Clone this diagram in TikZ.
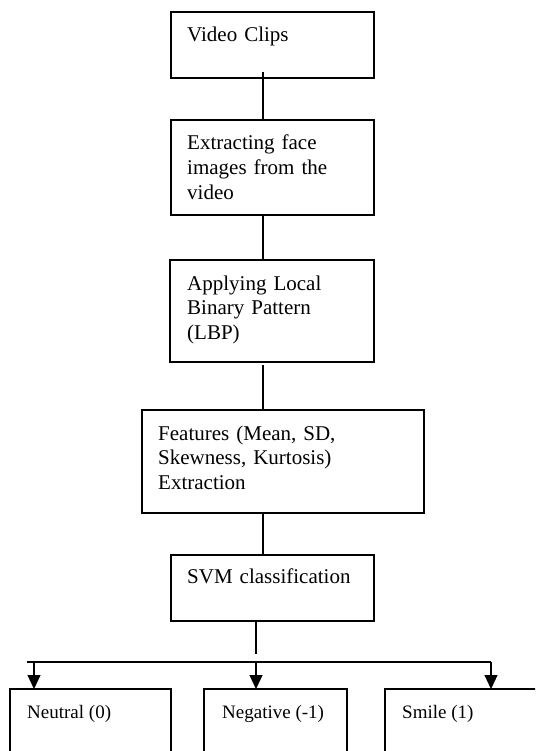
\documentclass[tikz,border=0pt]{standalone}
\usepackage{fontspec}
\setmainfont{Liberation Serif}
\usetikzlibrary{arrows.meta,calc}
\begin{document}
\begin{tikzpicture}[x=1pt,y=-1pt,
  boxstyle/.style={draw=black,line width=1.1pt,rectangle,inner sep=0pt,outer sep=0pt,anchor=north west},
  txt/.style={anchor=base west,inner sep=0pt,text width=260pt,align=left,
    font=\fontsize{21}{24.6}\selectfont},
  smalltxt/.style={anchor=base west,inner sep=0pt,font=\fontsize{19}{22}\selectfont},
  conn/.style={draw=black,line width=1.1pt},
  arr/.style={draw=black,line width=1.1pt,-{Triangle[length=14pt,width=13pt]}}]
\useasboundingbox (0,0) rectangle (535,751);
\clip (0,0) rectangle (535,751);
% boxes
\node[boxstyle,minimum width=203pt,minimum height=66pt] (b1) at (171,12) {};
\node[boxstyle,minimum width=203pt,minimum height=95pt] (b2) at (171,120) {};
\node[boxstyle,minimum width=204pt,minimum height=102pt] (b3) at (170,260) {};
\node[boxstyle,minimum width=282pt,minimum height=103pt] (b4) at (142,410) {};
\node[boxstyle,minimum width=203pt,minimum height=66pt] (b5) at (171,555) {};
\node[boxstyle,minimum width=161pt,minimum height=120pt] (c1) at (10,689) {};
\node[boxstyle,minimum width=143pt,minimum height=120pt] (c2) at (204,689) {};
\node[boxstyle,minimum width=180pt,minimum height=120pt] (c3) at (385,689) {};
% texts
\node[txt] (t1) at (187,42) {Video Clips};
\node[txt] (t2) at (187,150) {Extracting face\\images from the\\video};
\node[txt] (t3) at (187,290) {Applying Local\\Binary Pattern\\(LBP)};
\node[txt] (t4) at (158,440) {Features (Mean, SD,\\Skewness, Kurtosis)\\Extraction};
\node[txt] (t5) at (187,583) {SVM classification};
\node[smalltxt] (u1) at (27,718) {Neutral (0)};
\node[smalltxt] (u2) at (222,718) {Negative (-1)};
\node[smalltxt] (u3) at (402,718) {Smile (1)};
% connectors
\coordinate (spine) at (263,0);
\draw[conn] ($(spine |- b1.south)+(0,-6)$) -- (spine |- b2.north);
\draw[conn] (spine |- b2.south) -- (spine |- b3.north);
\draw[conn] ($(spine |- b3.south)+(0,3)$) -- (spine |- b4.north);
\draw[conn] (spine |- b4.south) -- (spine |- b5.north);
\coordinate (split) at (256,654);
\coordinate (hl) at (27,662);
\coordinate (hr) at (491,662);
\coordinate (a1) at (34,662);
\coordinate (a2) at (256,662);
\coordinate (a3) at (491,662);
\draw[conn] (split |- b5.south) -- (split);
\draw[conn] (hl) -- (hr);
\draw[arr] (a1) -- (a1 |- c1.north);
\draw[arr] (a2) -- (a2 |- c2.north);
\draw[arr] (a3) -- (a3 |- c3.north);
\end{tikzpicture}
\end{document}
